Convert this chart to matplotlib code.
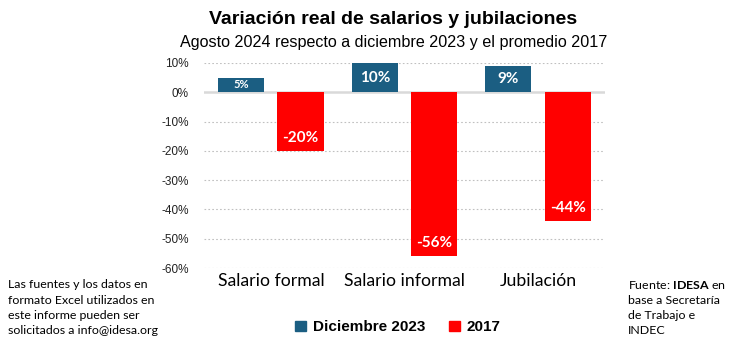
import matplotlib
matplotlib.use('Agg')
import matplotlib.pyplot as plt
import numpy as np
from matplotlib.patches import Patch

# datos
categorias = ['Salario formal', 'Salario informal', 'Jubilación']
dic_2023 = [5, 10, 9]
prom_2017 = [-20, -56, -44]
ticks = [10, 0, -10, -20, -30, -40, -50, -60]

azul = '#1B5E82'
rojo = '#FF0000'
narrow = ['Liberation Sans Narrow', 'Liberation Sans', 'DejaVu Sans']
label_font = ['Lato', 'DejaVu Sans']

plt.rcParams['mathtext.fontset'] = 'custom'
plt.rcParams['mathtext.bf'] = 'Lato:bold'
plt.rcParams['mathtext.rm'] = 'Lato'

fig = plt.figure(figsize=(7.3, 3.44), dpi=100)
ax = fig.add_axes([0.2795, 0.2209, 0.549, 0.596])

x = np.arange(len(categorias))
w = 0.346
off = 0.222
b1 = ax.bar(x - off, dic_2023, w, color=azul, zorder=3)
b2 = ax.bar(x + off, prom_2017, w, color=rojo, zorder=3)

ax.set_xlim(-0.5, 2.5)
ax.set_ylim(-60, 10)
ax.set_yticks(ticks)
ax.set_yticklabels([f'{t}%' for t in ticks], family=narrow, fontsize=8.5, color='#222222')
ax.tick_params(axis='y', length=0, pad=11)
ax.set_xticks([])
for t in ticks:
    if t == 0:
        ax.axhline(0, color='#D9D9D9', lw=1.8, zorder=2)
    else:
        ax.axhline(t, color='#C0C0C0', lw=0.8, ls=(0, (1.5, 2)), zorder=1)
for s in ax.spines.values():
    s.set_visible(False)

# etiquetas de las barras
for rect, v in zip(b1, dic_2023):
    fs = 8 if v < 7 else 11
    ax.text(rect.get_x() + rect.get_width() / 2, v / 2, f'{v}%', ha='center', va='center',
            color='white', fontweight='bold', fontsize=fs, family=label_font, zorder=4)
for rect, v in zip(b2, prom_2017):
    ax.text(rect.get_x() + rect.get_width() / 2, v + 4.4, f'{v}%', ha='center', va='center',
            color='white', fontweight='bold', fontsize=11, family=label_font, zorder=4)

# categorías
for xi, c in zip(x, categorias):
    ax.text(xi, -64.6, c, ha='center', va='center', fontsize=12.7, family=label_font, clip_on=False)

fig.text(0.538, 0.944, 'Variación real de salarios y jubilaciones', ha='center', va='center',
         fontsize=14, fontweight='bold', family=narrow)
fig.text(0.539, 0.877, 'Agosto 2024 respecto a diciembre 2023 y el promedio 2017', ha='center', va='center',
         fontsize=11.6, family=narrow)

handles = [Patch(color=azul, label='Diciembre 2023'), Patch(color=rojo, label='2017')]
fig.legend(handles=handles, loc='center', bbox_to_anchor=(0.545, 0.048), ncol=2, frameon=False,
           prop={'family': narrow, 'weight': 'bold', 'size': 11}, handlelength=0.7, handleheight=0.7,
           handletextpad=0.45, columnspacing=1.6)

fig.text(0.011, 0.106, 'Las fuentes y los datos en\nformato Excel utilizados en\neste informe pueden ser\nsolicitados a info@idesa.org',
         ha='left', va='center', fontsize=8.9, family=label_font, linespacing=1.45)
fig.text(0.86, 0.106, 'Fuente: $\\bf{IDESA}$ en\nbase a Secretaría\nde Trabajo e\nINDEC',
         ha='left', va='center', fontsize=8.9, family=label_font, linespacing=1.45)

fig.savefig('out.png', dpi=100)
